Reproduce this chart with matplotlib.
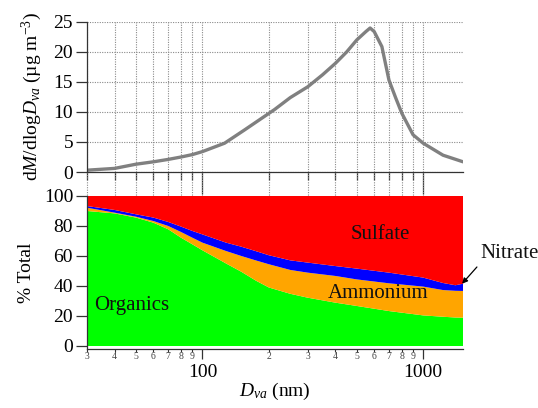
import matplotlib
matplotlib.use("Agg")
import matplotlib.pyplot as plt
from matplotlib.ticker import FixedLocator, FixedFormatter, NullFormatter
import matplotlib.transforms as mtransforms

# ---------------- data ----------------
# top panel: mass size distribution
d_mass = [30, 40, 50, 60, 70, 80, 90, 100, 126, 155, 212, 250, 300, 350, 400, 450,
          500, 550, 575, 600, 650, 700, 750, 800, 900, 1000, 1230, 1515]
dm_dlogd = [0.3, 0.6, 1.3, 1.7, 2.1, 2.5, 2.9, 3.4, 4.8, 7.0, 10.4, 12.4, 14.2, 16.2, 18.1, 20.0,
            22.0, 23.4, 24.0, 23.4, 20.9, 15.3, 12.4, 9.8, 6.2, 4.8, 2.8, 1.7]

# bottom panel: percent composition
d_frac = [30, 40, 50, 60, 70, 80, 90, 100, 128, 150, 175, 200, 250, 300, 400, 500, 700, 1000, 1230, 1400, 1515]
organics = [90.0, 88.4, 85.6, 82.2, 77.8, 72.2, 67.8, 63.8, 55.0, 49.5, 43.5, 39.0, 34.8, 32.2, 28.9, 26.7, 23.3, 20.4, 19.5, 19.0, 18.9]
ammonium = [2.2, 0.5, 0.6, 1.1, 2.2, 3.8, 4.4, 5.1, 8.3, 10.5, 13.5, 15.5, 15.9, 16.7, 17.8, 17.7, 18.5, 19.2, 17.8, 17.8, 17.8]
nitrate = [1.1, 1.8, 1.6, 2.3, 2.7, 3.6, 4.5, 5.5, 5.6, 6.2, 6.2, 6.0, 6.4, 6.7, 6.6, 7.2, 7.1, 6.0, 4.7, 3.7, 4.8]
sulfate = [6.7, 9.3, 12.2, 14.4, 17.3, 20.4, 23.3, 25.6, 31.1, 33.8, 36.8, 39.5, 42.9, 44.4, 46.7, 48.4, 51.1, 54.4, 58.0, 59.5, 58.5]

species = ["Organics", "Ammonium", "Nitrate", "Sulfate"]
colors = ["#00FF00", "#FFA500", "#0000FF", "#FF0000"]

major_x = [100, 1000]
minor_x = [30, 40, 50, 60, 70, 80, 90, 200, 300, 400, 500, 600, 700, 800, 900]
minor_lbl = ["3", "4", "5", "6", "7", "8", "9", "2", "3", "4", "5", "6", "7", "8", "9"]
major_lbl = ["100", "1000"]
xlim = (30, 1515)

# ---------------- style ----------------
plt.rcParams["font.family"] = ["Liberation Serif", "DejaVu Serif"]
plt.rcParams["mathtext.fontset"] = "custom"
plt.rcParams["mathtext.rm"] = "Liberation Serif"
plt.rcParams["mathtext.it"] = "Liberation Serif:italic"
plt.rcParams["axes.linewidth"] = 0.9

fig = plt.figure(figsize=(5.38, 4.08), dpi=100)
ax1 = fig.add_axes([87/538, 1-172/408, 376/538, 150/408])
ax2 = fig.add_axes([87/538, 1-349/408, 376/538, 153/408])

spine_col = "#333333"
grid_kw = dict(color="#8a8a8a", linewidth=0.8, linestyle=(0, (1, 1.2)))

# ---- top panel ----
ax1.plot(d_mass, dm_dlogd, color="#808080", linewidth=2.4, solid_capstyle="round")
ax1.set_xscale("log")
ax1.set_xlim(*xlim)
ax1.set_ylim(0, 25)
ax1.xaxis.set_major_locator(FixedLocator(major_x))
ax1.xaxis.set_minor_locator(FixedLocator(minor_x))
ax1.xaxis.set_major_formatter(NullFormatter())
ax1.xaxis.set_minor_formatter(NullFormatter())
ax1.set_yticks([0, 5, 10, 15, 20, 25])
ax1.grid(True, which="both", axis="x", **grid_kw)
ax1.grid(True, which="major", axis="y", **grid_kw)
for s in ["top", "right"]:
    ax1.spines[s].set_visible(False)
for s in ["left", "bottom"]:
    ax1.spines[s].set_color(spine_col)
ax1.tick_params(axis="y", which="major", direction="out", length=8, width=0.9,
                labelsize=14, pad=2, color=spine_col)
ax1.tick_params(axis="x", which="major", direction="out", length=16, width=0.9, color=spine_col)
ax1.tick_params(axis="x", which="minor", direction="out", length=6, width=0.9, color=spine_col)
ax1.set_ylabel(r"d$M$/dlog$D_{va}$ (µg m$^{-3}$)", fontsize=14, labelpad=7)
# dotted grid continuation in the gap between the panels
trans = mtransforms.blended_transform_factory(ax1.transData, ax1.transAxes)
for xv in minor_x + major_x:
    ax1.plot([xv, xv], [0, -0.16], transform=trans, clip_on=False, **grid_kw)

# ---- bottom panel ----
ax2.stackplot(d_frac, organics, ammonium, nitrate, sulfate, colors=colors,
              linewidth=0, antialiased=True)
ax2.set_xscale("log")
ax2.set_xlim(*xlim)
ax2.set_ylim(-2, 100)
ax2.set_yticks([0, 20, 40, 60, 80, 100])
ax2.xaxis.set_major_locator(FixedLocator(major_x))
ax2.xaxis.set_minor_locator(FixedLocator(minor_x))
ax2.xaxis.set_major_formatter(FixedFormatter(major_lbl))
ax2.xaxis.set_minor_formatter(FixedFormatter(minor_lbl))
for s in ["top", "right"]:
    ax2.spines[s].set_visible(False)
for s in ["left", "bottom"]:
    ax2.spines[s].set_color(spine_col)
ax2.tick_params(axis="y", which="major", direction="out", length=8, width=0.9,
                labelsize=14, pad=2, color=spine_col)
ax2.tick_params(axis="x", which="major", direction="out", length=7, width=0.9,
                labelsize=14, pad=3.5, color=spine_col)
ax2.tick_params(axis="x", which="minor", direction="out", length=2.5, width=0.8,
                labelsize=7, pad=0, color=spine_col, labelcolor="#444444")
ax2.set_ylabel("% Total", fontsize=14, labelpad=6)
ax2.set_xlabel(r"$D_{va}$ (nm)", fontsize=14, labelpad=0)

ax2.text(47.6, 26.7, species[0], fontsize=15, ha="center", va="center", color="#111111")
ax2.text(626, 35.1, species[1], fontsize=15, ha="center", va="center", color="#111111")
ax2.text(642, 74.4, species[3], fontsize=15, ha="center", va="center", color="#111111")
ax2.text(1.045, 0.627, species[2], transform=ax2.transAxes, fontsize=15,
         ha="left", va="center", color="#111111")
ax2.annotate("", xy=(1500, 41.5), xycoords="data",
             xytext=(1.037, 0.536), textcoords="axes fraction",
             annotation_clip=False,
             arrowprops=dict(arrowstyle="-|>", color="black", lw=0.9,
                             mutation_scale=8, shrinkA=0, shrinkB=0))

fig.savefig("out.png", dpi=100)
